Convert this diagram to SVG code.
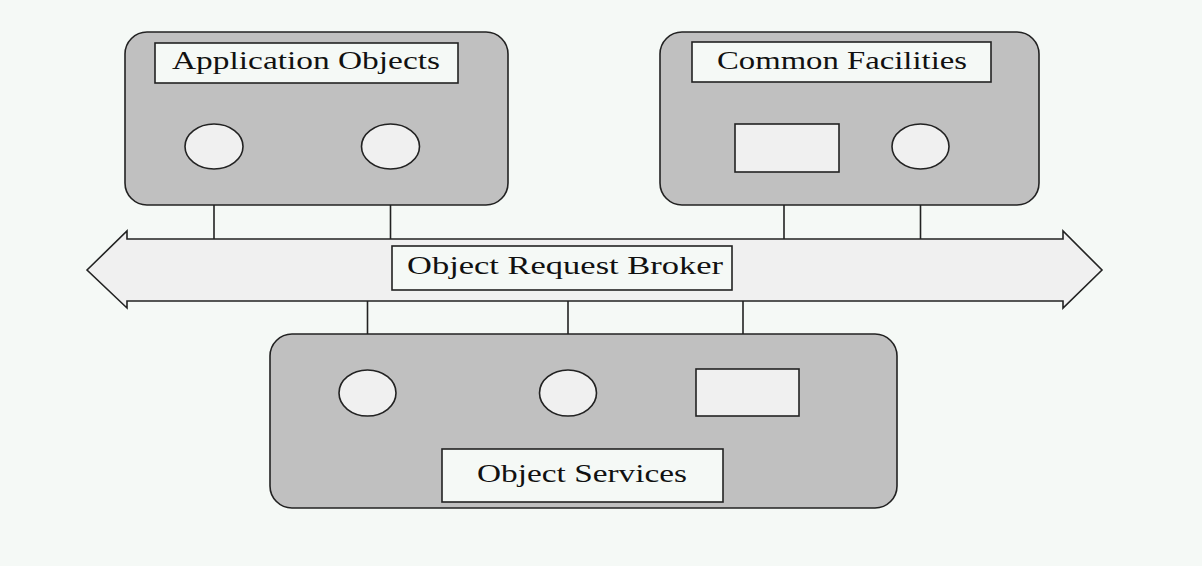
<svg xmlns="http://www.w3.org/2000/svg" width="1202" height="566" viewBox="0 0 1202 566">
  <style>
    .bg { fill: #f5f9f6; }
    .group { fill: #c0c0c0; stroke: #222; stroke-width: 1.6; }
    .obj { fill: #f0f0f0; stroke: #222; stroke-width: 1.6; }
    .label { fill: #f5f9f6; stroke: #222; stroke-width: 1.6; }
    .bus { fill: #f0f0f0; stroke: #222; stroke-width: 1.6; stroke-linejoin: miter; }
    .wire { stroke: #222; stroke-width: 1.6; fill: none; }
    text { font-family: "Liberation Serif", "DejaVu Serif", serif; font-size: 26px; fill: #111; }
  </style>

  <rect class="bg" x="0" y="0" width="1202" height="566"/>

  <!-- ORB bus: double-headed arrow -->
  <g id="orb">
    <polygon class="bus" points="87,270 127,231 127,239 1063,239 1063,231 1102,270 1063,308 1063,301 127,301 127,308"/>
    <rect class="label" x="392" y="246" width="340" height="44"/>
    <text x="407" y="274" textLength="316" lengthAdjust="spacingAndGlyphs">Object Request Broker</text>
  </g>

  <!-- connectors between objects and the bus -->
  <g id="connectors">
    <line class="wire" x1="214" y1="169" x2="214" y2="239"/>
    <line class="wire" x1="390.5" y1="169" x2="390.5" y2="239"/>
    <line class="wire" x1="784" y1="172" x2="784" y2="239"/>
    <line class="wire" x1="920.5" y1="169" x2="920.5" y2="239"/>
    <line class="wire" x1="367.5" y1="301" x2="367.5" y2="370"/>
    <line class="wire" x1="568" y1="301" x2="568" y2="370"/>
    <line class="wire" x1="743" y1="301" x2="743" y2="369"/>
  </g>

  <g id="application-objects">
    <rect class="group" x="125" y="32" width="383" height="173" rx="22" ry="22"/>
    <rect class="label" x="155" y="43" width="303" height="40"/>
    <text x="172" y="69" textLength="268" lengthAdjust="spacingAndGlyphs">Application Objects</text>
    <ellipse class="obj" cx="214" cy="146.5" rx="29" ry="22.5"/>
    <ellipse class="obj" cx="390.5" cy="146.5" rx="29" ry="22.5"/>
  </g>

  <g id="common-facilities">
    <rect class="group" x="660" y="32" width="379" height="173" rx="22" ry="22"/>
    <rect class="label" x="692" y="42" width="299" height="40"/>
    <text x="717" y="69" textLength="250" lengthAdjust="spacingAndGlyphs">Common Facilities</text>
    <rect class="obj" x="735" y="124" width="104" height="48"/>
    <ellipse class="obj" cx="920.5" cy="146.5" rx="28.5" ry="22.5"/>
  </g>

  <g id="object-services">
    <rect class="group" x="270" y="334" width="627" height="174" rx="22" ry="22"/>
    <ellipse class="obj" cx="367.5" cy="393" rx="28.5" ry="23"/>
    <ellipse class="obj" cx="568" cy="393" rx="28.5" ry="23"/>
    <rect class="obj" x="696" y="369" width="103" height="47"/>
    <rect class="label" x="442" y="449" width="281" height="53"/>
    <text x="477" y="482" textLength="210" lengthAdjust="spacingAndGlyphs">Object Services</text>
  </g>
</svg>
